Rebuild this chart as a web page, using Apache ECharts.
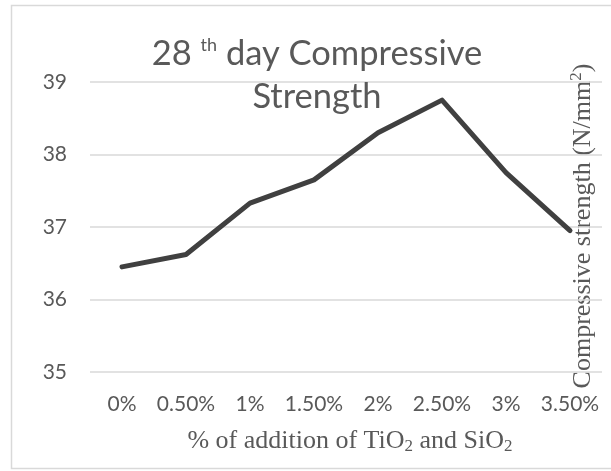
<!DOCTYPE html>
<html>
<head>
<meta charset="utf-8">
<script src="https://cdn.jsdelivr.net/npm/echarts@6/dist/echarts.min.js"></script>
<style>
  html, body { margin: 0; padding: 0; background: #fff; }
  #chart { width: 611px; height: 471px; }
</style>
</head>
<body>
<div id="chart"></div>
<script>
// data
var categories = ["0%", "0.50%", "1%", "1.50%", "2%", "2.50%", "3%", "3.50%"];
var strength = [36.45, 36.62, 37.33, 37.65, 38.3, 38.75, 37.75, 36.95];
var yTicks = [35, 36, 37, 38, 39];

var grey = "#595959";
var sans = "Lato, 'Open Sans', sans-serif";
var serif = "'Liberation Serif', 'DejaVu Serif', serif";

var chart = echarts.init(document.getElementById("chart"));
chart.setOption({
  animation: false,
  title: {
    text: "{n|28 }{sup|th}{n| day Compressive}\n{n|Strength}",
    left: 312,
    top: 27,
    textAlign: "center",
    textStyle: {
      rich: {
        n: { fontFamily: sans, fontSize: 34.5, fontWeight: "normal", color: grey, lineHeight: 43 },
        sup: { fontFamily: sans, fontSize: 18, fontWeight: "normal", color: grey, padding: [0, 0, 17, 0] }
      }
    }
  },
  grid: { left: 90, right: 9, top: 82, bottom: 99 },
  xAxis: {
    type: "category",
    data: categories,
    axisLine: { show: false },
    axisTick: { show: false },
    axisLabel: { color: grey, fontFamily: sans, fontSize: 21, margin: 22, interval: 0 }
  },
  yAxis: {
    type: "value",
    min: yTicks[0],
    max: yTicks[yTicks.length - 1],
    interval: 1,
    axisLine: { show: false },
    axisTick: { show: false },
    axisLabel: { color: grey, fontFamily: sans, fontSize: 21, margin: 23 },
    splitLine: { lineStyle: { color: "#d9d9d9", width: 1.5 } }
  },
  series: [{
    type: "line",
    data: strength,
    showSymbol: false,
    lineStyle: { color: "#404040", width: 5, join: "round", cap: "round" }
  }],
  graphic: [
    {
      type: "rect",
      shape: { x: 11.5, y: 5.5, width: 640, height: 463 },
      style: { fill: "none", stroke: "#d9d9d9", lineWidth: 1.5 },
      silent: true
    },
    {
      type: "text",
      x: 350,
      y: 441,
      style: {
        text: "{n|% of addition of TiO}{s|2}{n| and SiO}{s|2}",
        align: "center",
        verticalAlign: "middle",
        rich: {
          n: { fontFamily: serif, fontSize: 26, fill: grey },
          s: { fontFamily: serif, fontSize: 17, fill: grey, padding: [12, 0, 0, 0] }
        }
      }
    },
    {
      type: "text",
      x: 583,
      y: 226,
      rotation: Math.PI / 2,
      style: {
        text: "{n|Compressive strength (N/mm}{p|2}{n|)}",
        align: "center",
        verticalAlign: "middle",
        rich: {
          n: { fontFamily: serif, fontSize: 26, fill: grey },
          p: { fontFamily: serif, fontSize: 17, fill: grey, padding: [0, 0, 12, 0] }
        }
      }
    }
  ]
});
</script>
</body>
</html>
